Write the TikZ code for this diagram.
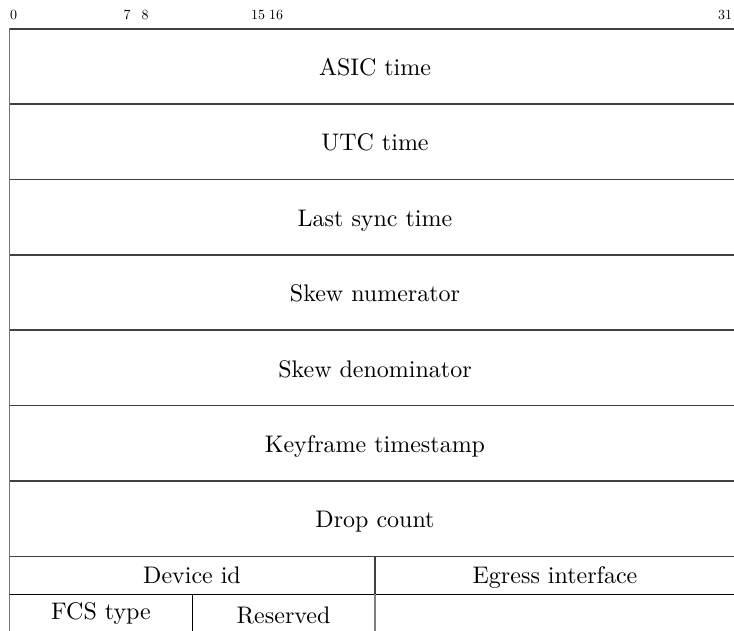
\documentclass[tikz,border=0pt]{standalone}
\usepackage{fontspec}
\newfontfamily\tenrm{lmroman10-regular.otf}
\begin{document}
\begin{tikzpicture}[x=1pt,y=-1pt,
  rowline/.style={draw=black!75,line width=1.8pt},
  thinline/.style={draw=black,line width=1pt},
  field/.style={font=\tenrm\fontsize{24}{28}\selectfont,anchor=base,inner sep=0pt},
  bitnum/.style={font=\tenrm\fontsize{14}{16}\selectfont,anchor=base,inner sep=0pt}]
\useasboundingbox (0,0) rectangle (734,630);
\clip (0,0) rectangle (734,630);
% bit numbers
\node[bitnum] (b0)  at (13.5,19.5) {0};
\node[bitnum] (b7)  at (127,19.5) {7};
\node[bitnum] (b8)  at (145,19.5) {8};
\node[bitnum] (b15) at (258,19.5) {15};
\node[bitnum] (b16) at (276,19.5) {16};
\node[bitnum] (b31) at (725,19.5) {31};
% frame and row lines
\draw[draw=black!55,line width=1.8pt] (9.5,28) -- (9.5,640);
\foreach \yy in {29,104,179.5,255,330,405.5,481,556.5}
  \draw[rowline] (9.5,\yy) -- (745,\yy);
\draw[draw=black!55,line width=1.8pt] (740,28) -- (740,640);
\draw[thinline] (9.5,594) -- (745,594);
\draw[rowline] (375,556.5) -- (375,594);
\draw[draw=black!50,line width=1.5pt] (375,594) -- (375,640);
\draw[thinline] (192,594) -- (192,640);
% fields
\node[field] (asic) at (375,75) {ASIC time};
\node[field] (utc)  at (375,150.5) {UTC time};
\node[field] (last) at (375,226) {Last sync time};
\node[field] (num)  at (375,301.5) {Skew numerator};
\node[field] (den)  at (375,377) {Skew denominator};
\node[field] (key)  at (375,452) {Keyframe timestamp};
\node[field] (drop) at (375,527.5) {Drop count};
\node[field] (dev)  at (192,583.5) {Device id};
\node[field] (egr)  at (555,583.5) {Egress interface};
\node[field] (fcs)  at (101,619) {FCS type};
\node[field] (res)  at (283.5,623.5) {Reserved};
\end{tikzpicture}
\end{document}
